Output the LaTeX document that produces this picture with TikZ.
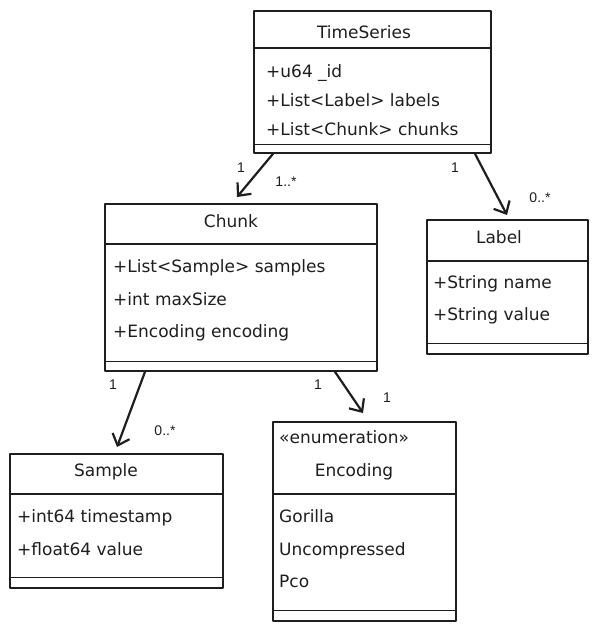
\documentclass[tikz,border=0pt]{standalone}
\usepackage{fontspec}
\usepackage{xcolor}
\usetikzlibrary{positioning}
\usetikzlibrary{calc}
\usetikzlibrary{arrows.meta}
\newfontfamily\handfont{DejaVu Sans}
\newfontfamily\multfont{Liberation Sans}
\definecolor{ink}{HTML}{1E1E1E}

\begin{document}
\begin{tikzpicture}[x=1pt, y=-1pt, line join=round,
        classbox/.style={draw=ink, line width=1.8pt, anchor=north west, inner sep=0pt},
        divider/.style={draw=ink, line width=1.2pt},
        classname/.style={anchor=base, inner sep=0pt, text=ink, font=\handfont\fontsize{17}{20}\selectfont},
        member/.style={anchor=base west, inner sep=0pt, text=ink, font=\handfont\fontsize{17}{20}\selectfont},
        assoc/.style={draw=ink, line width=2.2pt, line cap=round, -{Straight Barb[length=10pt, width=18pt]}},
        mult/.style={inner sep=0pt, text=ink, font=\multfont\fontsize{14}{16}\selectfont}]
            \fill[white] (0,0) rectangle (597,630);
            \useasboundingbox (0,0) rectangle (597,630);

            \node [classbox, minimum width=237pt, minimum height=142pt] (ts) at (253,10) {};
            \node [classname] (tsname) at (364,38) {TimeSeries};
            \node [member] (tsid) at (266,77) {+u64 \_id};
            \node [member] (tslabels) at (266,106) {+List<Label> labels};
            \node [member] (tschunks) at (266,135) {+List<Chunk> chunks};
            \draw [divider] ($(ts.north west)+(0,38)$) -- ($(ts.north east)+(0,38)$);
            \draw [divider] ($(ts.south west)+(0,-9)$) -- ($(ts.south east)+(0,-9)$);

            \node [classbox, minimum width=272pt, minimum height=167pt] (chunk) at (104,203) {};
            \node [classname] (chunkname) at (231,227) {Chunk};
            \node [member] (chunksamples) at (113,272) {+List<Sample> samples};
            \node [member] (chunkmax) at (113,305) {+int maxSize};
            \node [member] (chunkenc) at (113,337) {+Encoding encoding};
            \draw [divider] ($(chunk.north west)+(0,41)$) -- ($(chunk.north east)+(0,41)$);
            \draw [divider] ($(chunk.south west)+(0,-10)$) -- ($(chunk.south east)+(0,-10)$);

            \node [classbox, minimum width=161pt, minimum height=134pt] (label) at (426,219) {};
            \node [classname] (labelname) at (499,243) {Label};
            \node [member] (labelkey) at (433,288) {+String name};
            \node [member] (labelvalue) at (433,320) {+String value};
            \draw [divider] ($(label.north west)+(0,42)$) -- ($(label.north east)+(0,42)$);
            \draw [divider] ($(label.south west)+(0,-11)$) -- ($(label.south east)+(0,-11)$);

            \node [classbox, minimum width=213pt, minimum height=134pt] (sample) at (9,453) {};
            \node [classname] (samplename) at (106,476) {Sample};
            \node [member] (samplets) at (17,522) {+int64 timestamp};
            \node [member] (samplevalue) at (17,555) {+float64 value};
            \draw [divider] ($(sample.north west)+(0,41)$) -- ($(sample.north east)+(0,41)$);
            \draw [divider] ($(sample.south west)+(0,-11)$) -- ($(sample.south east)+(0,-11)$);

            \node [classbox, minimum width=183pt, minimum height=199pt] (enc) at (272,421) {};
            \node [member] (encstereo) at (279,443) {«enumeration»};
            \node [classname] (encname) at (354,476) {Encoding};
            \node [member] (encgorilla) at (279,522) {Gorilla};
            \node [member] (encraw) at (279,555) {Uncompressed};
            \node [member] (encpco) at (279,587) {Pco};
            \draw [divider] ($(enc.north west)+(0,73)$) -- ($(enc.north east)+(0,73)$);
            \draw [divider] ($(enc.south west)+(0,-11)$) -- ($(enc.south east)+(0,-11)$);

            \draw [assoc] ($(ts.south west)+(20,0)$) -- ($(chunk.north west)+(133,-6)$);
            \node [mult] (tschunkfrom) at (241,168) {1};
            \node [mult] (tschunkto) at (286,182) {1..*};

            \draw [assoc] ($(ts.south west)+(222,0)$) -- ($(label.north west)+(81,-4)$);
            \node [mult] (tslabelfrom) at (455,168) {1};
            \node [mult] (tslabelto) at (540,198) {0..*};

            \draw [assoc] ($(chunk.south west)+(41,0)$) -- ($(sample.north west)+(108,-6)$);
            \node [mult] (chunksamplefrom) at (113,385) {1};
            \node [mult] (chunksampleto) at (165,431) {0..*};

            \draw [assoc] ($(chunk.south west)+(231,0)$) -- ($(enc.north west)+(91,-8)$);
            \node [mult] (chunkencfrom) at (318,385) {1};
            \node [mult] (chunkencto) at (387,398) {1};
        \end{tikzpicture}
\end{document}
